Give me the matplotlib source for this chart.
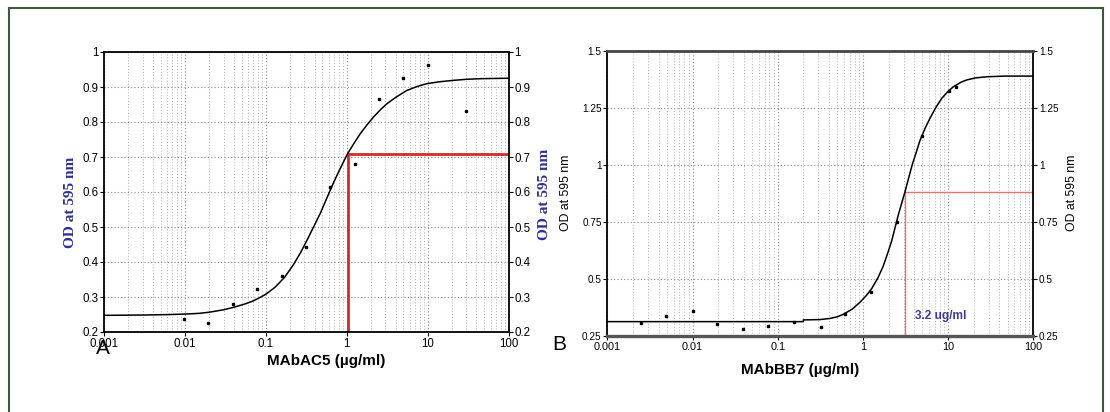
import matplotlib
matplotlib.use("Agg")
import matplotlib.pyplot as plt
from matplotlib.ticker import FixedLocator, FixedFormatter, LogLocator, NullFormatter
from matplotlib.lines import Line2D

# ---------------- data: panel A (MAbAC5) ----------------
a_conc = [0.0098, 0.0195, 0.039, 0.078, 0.156, 0.3125, 0.625, 1.25, 2.5, 5, 10, 30]
a_od = [0.236, 0.225, 0.280, 0.323, 0.359, 0.444, 0.615, 0.680, 0.865, 0.925, 0.962, 0.832]
a_fit_x = [0.001, 0.003, 0.006, 0.01, 0.015, 0.02, 0.03, 0.04, 0.055, 0.07, 0.085, 0.1,
           0.13, 0.17, 0.22, 0.27, 0.32, 0.4, 0.47, 0.56, 0.68, 0.82, 1.03, 1.25, 1.46,
           1.75, 2.13, 2.6, 3.12, 4.0, 5.5, 7.5, 9.75, 14, 20.8, 30, 44.5, 70, 100]
a_fit_y = [0.2476, 0.2485, 0.2497, 0.2512, 0.2533, 0.2565, 0.2635, 0.2705, 0.280, 0.289,
           0.299, 0.308, 0.328, 0.356, 0.393, 0.428, 0.461, 0.506, 0.539, 0.580, 0.625,
           0.665, 0.711, 0.742, 0.766, 0.790, 0.814, 0.835, 0.852, 0.870, 0.890, 0.902,
           0.9095, 0.915, 0.919, 0.922, 0.9237, 0.9245, 0.925]
a_ref_x = 1.04
a_ref_y = 0.708

# ---------------- data: panel B (MAbBB7) ----------------
b_conc = [0.00249, 0.00489, 0.0100, 0.0195, 0.0394, 0.0776, 0.157, 0.319, 0.617,
          1.24, 2.51, 4.98, 10.2, 12.4]
b_od = [0.308, 0.339, 0.360, 0.301, 0.281, 0.2925, 0.310, 0.291, 0.345,
        0.443, 0.751, 1.127, 1.325, 1.343]
b_fit_x = [0.001, 0.0619, 0.2, 0.2, 0.313, 0.411, 0.5, 0.589, 0.75, 0.925, 1.1, 1.27,
           1.5, 1.73, 1.95, 2.18, 2.6, 3.12, 3.74, 4.68, 5.4, 6.13, 7.2, 8.41, 10, 11.5,
           14, 16.5, 21, 28.4, 46.6, 100]
b_fit_y = [0.313, 0.313, 0.313, 0.3205, 0.322, 0.327, 0.334, 0.345, 0.368, 0.398, 0.428,
           0.458, 0.505, 0.556, 0.612, 0.668, 0.780, 0.883, 0.993, 1.108, 1.163, 1.205,
           1.253, 1.292, 1.323, 1.343, 1.362, 1.373, 1.382, 1.387, 1.390, 1.390]
b_ref_x = 3.12
b_ref_y = 0.88
b_ref_label = "3.2 ug/ml"

x_ticks = [0.001, 0.01, 0.1, 1, 10, 100]
x_tick_labels = ["0.001", "0.01", "0.1", "1", "10", "100"]
a_y_ticks = [0.2, 0.3, 0.4, 0.5, 0.6, 0.7, 0.8, 0.9, 1.0]
a_y_tick_labels = ["0.2", "0.3", "0.4", "0.5", "0.6", "0.7", "0.8", "0.9", "1"]
b_y_ticks = [0.25, 0.5, 0.75, 1.0, 1.25, 1.5]
b_y_tick_labels = ["0.25", "0.5", "0.75", "1", "1.25", "1.5"]

W, H = 1110, 412
fig = plt.figure(figsize=(W / 100, H / 100), dpi=100)
fig.patch.set_facecolor("white")
SANS = ["Liberation Sans", "DejaVu Sans"]
SERIF = ["Liberation Serif", "DejaVu Serif"]

def fx(px):
    return px / W

def fy(py):
    return 1 - py / H

# outer frame
border_col = "#3d5a3d"
fig.add_artist(Line2D([fx(9), fx(9)], [fy(8), 0], color=border_col, lw=1.5, transform=fig.transFigure))
fig.add_artist(Line2D([fx(9), fx(1103)], [fy(8), fy(8)], color=border_col, lw=1.5, transform=fig.transFigure))
fig.add_artist(Line2D([fx(1103), fx(1103)], [fy(8), 0], color=border_col, lw=1.5, transform=fig.transFigure))


def style_axis(ax, yticks, ylabels, xtick_fs, ytick_fs, ylim):
    ax.set_xscale("log")
    ax.set_xlim(0.001, 100)
    ax.set_ylim(*ylim)
    ax.xaxis.set_major_locator(FixedLocator(x_ticks))
    ax.xaxis.set_major_formatter(FixedFormatter(x_tick_labels))
    ax.xaxis.set_minor_locator(LogLocator(base=10, subs=range(2, 10), numticks=20))
    ax.xaxis.set_minor_formatter(NullFormatter())
    ax.yaxis.set_major_locator(FixedLocator(yticks))
    ax.yaxis.set_major_formatter(FixedFormatter(ylabels))
    ax.grid(True, which="major", axis="both", linestyle=(0, (1, 2)), color="#8c8c8c", lw=0.8)
    ax.grid(True, which="minor", axis="x", linestyle=(0, (1, 2)), color="#b0b0b0", lw=0.7)
    ax.tick_params(axis="both", which="major", direction="out", length=3, width=0.8,
                   pad=1, colors="black")
    ax.tick_params(axis="x", which="major", labelsize=xtick_fs)
    ax.tick_params(axis="y", which="major", labelsize=ytick_fs)
    ax.tick_params(axis="x", which="minor", length=0)
    ax.tick_params(axis="y", which="both", left=True, right=True, labelleft=True, labelright=True)
    for lab in ax.get_xticklabels() + ax.get_yticklabels():
        lab.set_family(SANS)
    ax.set_axisbelow(True)


# ---------------- panel A ----------------
axA = fig.add_axes([fx(104), fy(332), fx(508.7) - fx(104), fy(52) - fy(332)])
style_axis(axA, a_y_ticks, a_y_tick_labels, 8.3, 8.3, (0.2, 1.0))
for s in axA.spines.values():
    s.set_linewidth(1.3)
    s.set_color("black")
axA.plot(a_fit_x, a_fit_y, color="black", lw=1.1, zorder=3)
axA.plot(a_conc, a_od, "s", color="black", ms=1.8, zorder=4)
axA.plot([a_ref_x, a_ref_x], [0.2, a_ref_y], color="#d42a2a", lw=2.0, zorder=2)
axA.plot([a_ref_x, 100], [a_ref_y, a_ref_y], color="#d42a2a", lw=2.0, zorder=2)

fig.text(fx(70), fy(202), "OD at 595 nm", rotation=90, ha="center", va="center",
         family=SERIF, fontweight="bold", fontsize=11, color="#2e3192")
fig.text(fx(545), fy(194), "OD at 595 nm", rotation=90, ha="center", va="center",
         family=SERIF, fontweight="bold", fontsize=11, color="#2e3192")
fig.text(fx(326), fy(361), "MAbAC5 (\u00b5g/ml)", ha="center", va="center",
         family=SANS, fontweight="bold", fontsize=11, color="black")
fig.text(fx(96), fy(349), "A", ha="left", va="center", family=SANS, fontsize=15, color="black")

# ---------------- panel B ----------------
axB = fig.add_axes([fx(607.3), fy(336), fx(1033.3) - fx(607.3), fy(51) - fy(336)])
style_axis(axB, b_y_ticks, b_y_tick_labels, 7.8, 7.2, (0.25, 1.5))
axB.spines["left"].set_linewidth(1.3)
axB.spines["right"].set_linewidth(1.3)
axB.spines["top"].set_linewidth(2.0)
axB.spines["top"].set_color("#444444")
axB.spines["bottom"].set_linewidth(2.4)
axB.spines["bottom"].set_color("#555555")
axB.plot(b_fit_x, b_fit_y, color="black", lw=1.1, zorder=3)
axB.plot(b_conc, b_od, "s", color="black", ms=1.8, zorder=4)
axB.plot([b_ref_x, b_ref_x], [0.25, b_ref_y], color="#f07070", lw=1.0, zorder=2)
axB.plot([b_ref_x, 100], [b_ref_y, b_ref_y], color="#f07070", lw=1.0, zorder=2)
axB.text(4.05, 0.336, b_ref_label, ha="left", va="center", family=SANS,
         fontweight="bold", fontsize=8.6, color="#3d3d99")

fig.text(fx(566), fy(193), "OD at 595 nm", rotation=90, ha="center", va="center",
         family=SANS, fontsize=8.8, color="black")
fig.text(fx(1072), fy(193), "OD at 595 nm", rotation=90, ha="center", va="center",
         family=SANS, fontsize=8.8, color="black")
fig.text(fx(800), fy(370), "MAbBB7 (\u00b5g/ml)", ha="center", va="center",
         family=SANS, fontweight="bold", fontsize=11, color="black")
fig.text(fx(552), fy(344), "B", ha="left", va="center", family=SANS, fontsize=15, color="black")

fig.savefig("out.png", dpi=100)
